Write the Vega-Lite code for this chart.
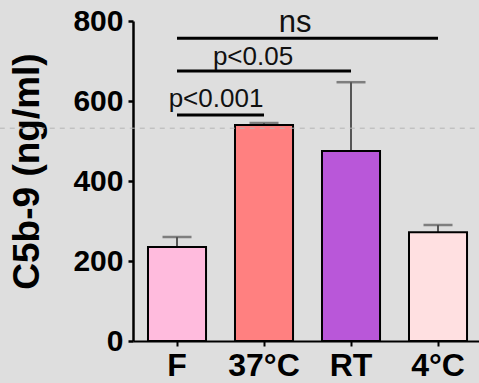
{
  "$schema": "https://vega.github.io/schema/vega-lite/v6.json",
  "autosize": "none",
  "width": 346,
  "height": 320,
  "padding": {"left": 133, "top": 21, "right": 0, "bottom": 42},
  "background": "#dedede",
  "config": {"view": {"stroke": null}, "font": "Liberation Sans"},
  "datasets": {
    "bars": [
      {"group": "F", "mean": 235, "upper": 260},
      {"group": "37°C", "mean": 540, "upper": 545},
      {"group": "RT", "mean": 475, "upper": 647},
      {"group": "4°C", "mean": 272, "upper": 290}
    ],
    "brackets": [
      {"label": "p<0.001", "from": "F", "to": "37°C", "line": 565, "texty": 585},
      {"label": "p<0.05", "from": "F", "to": "RT", "line": 675, "texty": 690},
      {"label": "ns", "from": "F", "to": "4°C", "line": 757, "texty": 772}
    ],
    "ref": [{"level": 532, "start": -0.385, "end": 1}]
  },
  "resolve": {"scale": {"x": "independent"}, "axis": {"x": "independent"}},
  "layer": [
    {
      "layer": [
        {
          "data": {"name": "bars"},
          "mark": {"type": "rule", "color": "#555", "strokeWidth": 2},
          "encoding": {
            "x": {
              "field": "group", "type": "nominal", "sort": ["F", "37°C", "RT", "4°C"],
              "scale": {"domain": ["F", "37°C", "RT", "4°C"], "paddingInner": 0.333, "paddingOuter": 0.155, "align": 0.556},
              "axis": {"title": null, "labelAngle": 0, "labelFontSize": 32, "labelFontWeight": "bold", "labelColor": "#000",
                "domainColor": "#000", "domainWidth": 2, "tickColor": "#000", "tickWidth": 2, "tickSize": 5, "labelPadding": 4}
            },
            "y": {"field": "mean", "type": "quantitative", "scale": {"domain": [0, 800], "nice": false},
              "axis": {"title": "C5b-9 (ng/ml)", "titleFontSize": 37, "titleFontWeight": "bold", "titleColor": "#000",
                "values": [0, 200, 400, 600, 800], "grid": false, "labelFontSize": 30, "labelFontWeight": "bold", "labelColor": "#000",
                "domainColor": "#000", "domainWidth": 2.5, "tickColor": "#000", "tickWidth": 2.5, "tickSize": 5, "labelPadding": 5,
                "titlePadding": 26, "titleY": 150}},
            "y2": {"field": "upper"}
          }
        },
        {
          "data": {"name": "bars"},
          "mark": {"type": "tick", "color": "#555", "thickness": 2.5, "size": 29},
          "encoding": {"x": {"field": "group", "type": "nominal"}, "y": {"field": "upper", "type": "quantitative"}}
        },
        {
          "data": {"name": "bars"},
          "mark": {"type": "bar", "stroke": "#000", "strokeWidth": 2},
          "encoding": {
            "x": {"field": "group", "type": "nominal"},
            "y": {"field": "mean", "type": "quantitative"},
            "color": {"field": "group", "type": "nominal", "legend": null,
              "scale": {"domain": ["F", "37°C", "RT", "4°C"], "range": ["#ffbbdd", "#ff8080", "#b957d9", "#ffe0e1"]}}
          }
        },
        {
          "data": {"name": "brackets"},
          "mark": {"type": "rule", "color": "#000", "strokeWidth": 3},
          "encoding": {
            "x": {"field": "from", "type": "nominal"},
            "x2": {"field": "to"},
            "y": {"field": "line", "type": "quantitative"}
          }
        },
        {
          "data": {"name": "brackets"},
          "transform": [{"filter": "datum.label === 'p<0.001'"}],
          "mark": {"type": "text", "fontSize": 26, "color": "#111", "baseline": "alphabetic", "dx": -48},
          "encoding": {"x": {"field": "to", "type": "nominal"}, "y": {"field": "texty", "type": "quantitative"}, "text": {"field": "label"}}
        },
        {
          "data": {"name": "brackets"},
          "transform": [{"filter": "datum.label === 'p<0.05'"}],
          "mark": {"type": "text", "fontSize": 26, "color": "#111", "baseline": "alphabetic", "dx": -98},
          "encoding": {"x": {"field": "to", "type": "nominal"}, "y": {"field": "texty", "type": "quantitative"}, "text": {"field": "label"}}
        },
        {
          "data": {"name": "brackets"},
          "transform": [{"filter": "datum.label === 'ns'"}],
          "mark": {"type": "text", "fontSize": 31, "color": "#111", "baseline": "alphabetic", "dx": -143},
          "encoding": {"x": {"field": "to", "type": "nominal"}, "y": {"field": "texty", "type": "quantitative"}, "text": {"field": "label"}}
        }
      ]
    },
    {
      "data": {"name": "ref"},
      "mark": {"type": "rule", "color": "#b4b4b4", "strokeWidth": 1, "strokeDash": [5, 5], "clip": false},
      "encoding": {
        "x": {"field": "start", "type": "quantitative", "scale": {"domain": [0, 1], "nice": false, "zero": false}, "axis": null},
        "x2": {"field": "end"},
        "y": {"field": "level", "type": "quantitative"}
      }
    }
  ]
}
